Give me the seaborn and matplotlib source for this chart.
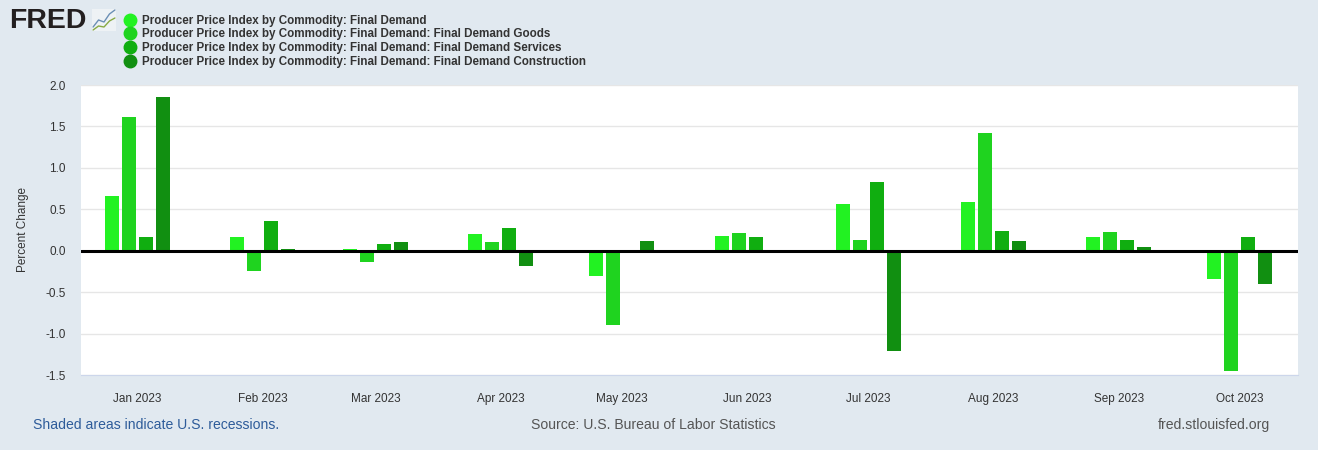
import numpy as np
import pandas as pd
import matplotlib.pyplot as plt
import seaborn as sns
from matplotlib.lines import Line2D

# Valores (variação percentual mensal)
months = ["2023-01-01", "2023-02-01", "2023-03-01", "2023-04-01", "2023-05-01",
          "2023-06-01", "2023-07-01", "2023-08-01", "2023-09-01", "2023-10-01"]
month_labels = ["Jan 2023", "Feb 2023", "Mar 2023", "Apr 2023", "May 2023",
                "Jun 2023", "Jul 2023", "Aug 2023", "Sep 2023", "Oct 2023"]
series_names = [
    "Producer Price Index by Commodity: Final Demand",
    "Producer Price Index by Commodity: Final Demand: Final Demand Goods",
    "Producer Price Index by Commodity: Final Demand: Final Demand Services",
    "Producer Price Index by Commodity: Final Demand: Final Demand Construction",
]
final_demand = [0.66, 0.17, 0.02, 0.20, -0.30, 0.18, 0.56, 0.59, 0.16, -0.34]
goods = [1.61, -0.25, -0.14, 0.11, -0.90, 0.21, 0.13, 1.42, 0.23, -1.45]
services = [0.17, 0.36, 0.08, 0.27, 0.00, 0.17, 0.83, 0.24, 0.13, 0.17]
construction = [1.85, 0.02, 0.10, -0.19, 0.12, 0.00, -1.21, 0.12, 0.05, -0.40]
colors = ["#22f222", "#1fd31f", "#10ae10", "#118f11"]

# Montando o DataFrame em formato longo
days = (pd.to_datetime(months) - pd.Timestamp("2023-01-01")).days
rows = []
for name, vals in zip(series_names, [final_demand, goods, services, construction]):
    for d, v in zip(days, vals):
        rows.append({"day": d, "value": v, "series": name})
df = pd.DataFrame(rows)

sns.set_style("white")
plt.rcParams["font.family"] = ["Liberation Sans", "DejaVu Sans"]

bg = "#e1e9f0"
fig = plt.figure(figsize=(13.18, 4.5), dpi=100, facecolor=bg)
ax = fig.add_axes([81 / 1318, 1 - 375 / 450, (1298 - 81) / 1318, (375 - 85) / 450])
ax.set_facecolor("white")

sns.barplot(data=df, x="day", y="value", hue="series", hue_order=series_names,
            palette=colors, native_scale=True, width=0.6, gap=0.17,
            saturation=1, errorbar=None, linewidth=0, legend=False, ax=ax)

ax.axhline(0, color="black", lw=2.2, zorder=3)
ax.set_ylim(-1.5, 2.0)
ax.set_yticks(np.arange(-1.5, 2.01, 0.5))
ax.set_yticklabels([f"{v:.1f}" for v in np.arange(-1.5, 2.01, 0.5)])
ax.set_xlim(-13.9, 287.4)
ax.set_xticks(days)
ax.set_xticklabels(month_labels)
ax.yaxis.grid(True, color="#e6e6e6", lw=1)
ax.set_axisbelow(True)
for s in ["top", "right", "left"]:
    ax.spines[s].set_visible(False)
ax.spines["bottom"].set_color("#ccd6eb")
ax.tick_params(axis="x", length=10, color="#ccd6eb", labelsize=8.5, labelcolor="#333333", pad=3)
ax.tick_params(axis="y", length=0, labelsize=8.5, labelcolor="#333333", pad=11)
ax.set_xlabel("")
ax.set_ylabel("Percent Change", fontsize=8.5, color="#333333", labelpad=12)

# Legenda com marcadores circulares
handles = [Line2D([], [], marker="o", ls="", markersize=9, color=c) for c in colors]
fig.legend(handles, series_names, loc="upper left", bbox_to_anchor=(117 / 1318, 1 - 10 / 450),
           frameon=False, handletextpad=0.35, labelspacing=0.15, borderaxespad=0,
           handlelength=1.4,
           prop={"family": ["Liberation Sans"], "weight": "bold", "size": 8.4},
           labelcolor="#333333")

# Logo FRED
fig.text(9 / 1318, 1 - 21 / 450, "FRED", fontsize=20.5, fontweight="heavy", color="#231f20",
         va="center", ha="left")
icon = fig.add_axes([92 / 1318, 1 - 31 / 450, 24 / 1318, 22 / 450])
icon.set_facecolor("#eef2f5")
icon.plot([0, 1, 2, 3, 4], [0.5, 1.2, 1.0, 1.8, 2.2], color="#6b8fb5", lw=1)
icon.plot([0, 1, 2, 3, 4], [0.2, 0.6, 0.5, 1.1, 1.4], color="#88aa44", lw=1)
icon.set_xticks([])
icon.set_yticks([])
for s in icon.spines.values():
    s.set_visible(False)

# Rodapé
fig.text(33 / 1318, 1 - 425 / 450, "Shaded areas indicate U.S. recessions.", fontsize=10.1,
         color="#2e5c9a", va="center", ha="left")
fig.text(653 / 1318, 1 - 425 / 450, "Source: U.S. Bureau of Labor Statistics", fontsize=10.1,
         color="#555555", va="center", ha="center")
fig.text(1270 / 1318, 1 - 425 / 450, "fred.stlouisfed.org", fontsize=10.1,
         color="#555555", va="center", ha="right")

fig.savefig("out.png", dpi=100, facecolor=bg)
